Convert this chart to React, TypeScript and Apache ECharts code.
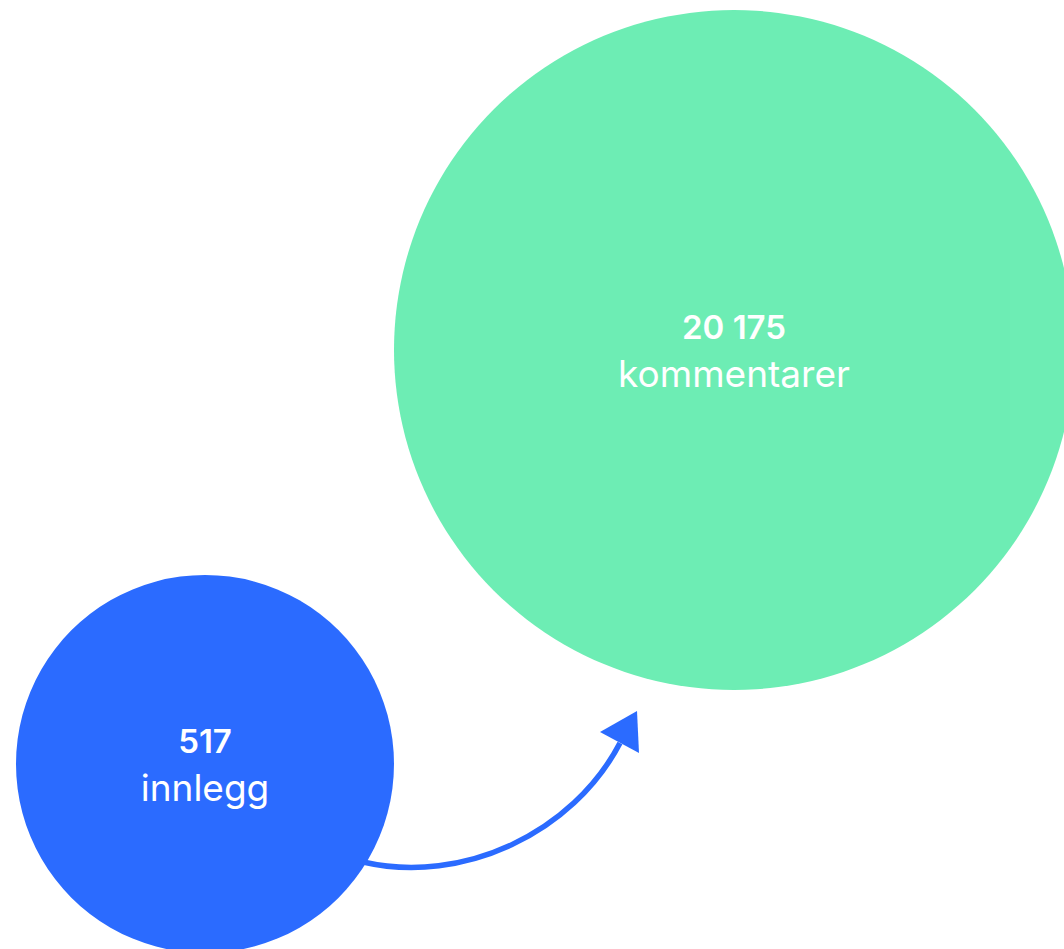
import React, { useEffect, useRef } from "react";
import * as echarts from "echarts";

// Data
const categories = ["innlegg", "kommentarer"];
const values = [517, 20175];

// Layout (pixel space of a 1064x949 canvas)
const WIDTH = 1064;
const HEIGHT = 949;
const centers = [
  [205, 764],
  [734, 350],
];
const diameters = [378, 680];
const colors = ["#2B6BFF", "#6DEDB4"];

const fmt = (v: number) => String(v).replace(/\B(?=(\d{3})+(?!\d))/g, " ");

export default function App() {
  const ref = useRef<HTMLDivElement>(null);
  useEffect(() => {
    if (!ref.current) return;
    const chart = echarts.init(ref.current, undefined, { renderer: "svg" });
    const font = "Inter, 'Noto Sans', sans-serif";
    chart.setOption({
      animation: false,
      backgroundColor: "#ffffff",
      grid: { left: 0, right: 0, top: 0, bottom: 0 },
      xAxis: { type: "value", min: 0, max: WIDTH, show: false },
      yAxis: { type: "value", min: 0, max: HEIGHT, inverse: true, show: false },
      series: [
        {
          type: "scatter",
          clip: false,
          data: categories.map((c, i) => ({
            name: c,
            value: [centers[i][0], centers[i][1], values[i]],
            symbolSize: diameters[i],
            itemStyle: { color: colors[i], opacity: 1 },
          })),
          label: {
            show: true,
            position: "inside",
            formatter: (p: any) => `{a|${fmt(p.value[2])}}\n{b|${p.name}}`,
            rich: {
              a: {
                fontFamily: font,
                fontSize: 33,
                fontWeight: 600,
                color: "#ffffff",
                lineHeight: 46,
                align: "center",
              },
              b: {
                fontFamily: font,
                fontSize: 37,
                fontWeight: 400,
                color: "#ffffff",
                lineHeight: 46,
                align: "center",
              },
            },
          },
          emphasis: { disabled: true },
        },
      ],
      graphic: [
        {
          type: "bezierCurve",
          shape: {
            x1: 363,
            y1: 862,
            cpx1: 463,
            cpy1: 885,
            cpx2: 573,
            cpy2: 833,
            x2: 620,
            y2: 743,
          },
          style: { stroke: colors[0], lineWidth: 5.5, fill: null },
          z: 10,
        },
        {
          type: "polygon",
          shape: {
            points: [
              [600, 732],
              [637, 711],
              [639, 753],
            ],
          },
          style: { fill: colors[0] },
          z: 10,
        },
      ],
    });
    return () => chart.dispose();
  }, []);
  return (
    <div
      ref={ref}
      style={{ position: "absolute", left: 0, top: 0, width: WIDTH, height: HEIGHT }}
    />
  );
}
